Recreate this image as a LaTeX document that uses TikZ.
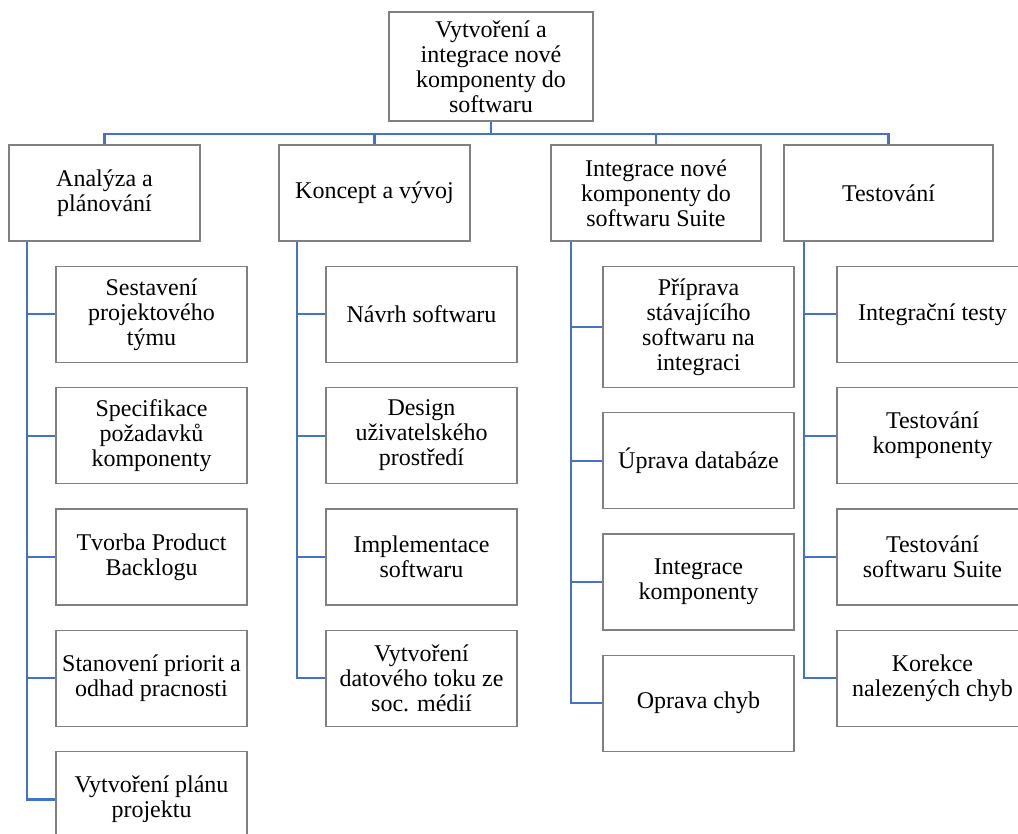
\documentclass[tikz,border=0pt]{standalone}
\usepackage{fontspec}
\setmainfont{Liberation Serif}
\newfontfamily\figpismo{Liberation Serif}
\usetikzlibrary{positioning}
\definecolor{figModra}{RGB}{68,114,196}
\definecolor{figSedaOkraj}{RGB}{128,128,128}
\tikzset{
  blok/.style={
    rectangle, draw=figSedaOkraj, line width=1.3pt, fill=white,
    minimum height=96pt, minimum width=191pt,
    align=center, font=\figpismo\fontsize{24}{25}\selectfont, inner sep=2pt
  },
  spoj/.style={line width=2.2pt, draw=figModra}
}

\begin{document}
\begin{tikzpicture}[x=1pt, y=-1pt, node distance=24pt]
  \useasboundingbox (0,0) rectangle (1018,834);
  \clip (0,0) rectangle (1018,834);

  \node[blok, minimum width=204pt, minimum height=109pt] (cil) at (491,66.5) {Vytvoření a\\integrace nové\\komponenty do\\softwaru};

  \node[blok] (analyza) at (104.5,193) {Analýza a\\plánování};
  \node[blok] (koncept) at (374.5,193) {Koncept a vývoj};
  \node[blok, minimum width=210pt] (integrace) at (656,193) {Integrace nové\\komponenty do\\softwaru Suite};
  \node[blok, minimum width=209pt] (testovani) at (888.5,193) {Testování};

  \node[blok, below right=24pt and 47pt of analyza.south west] (a1) {Sestavení\\projektového\\týmu};
  \node[blok, below=of a1] (a2) {Specifikace\\požadavků\\komponenty};
  \node[blok, below=of a2] (a3) {Tvorba Product\\Backlogu};
  \node[blok, below=of a3] (a4) {Stanovení priorit a\\odhad pracnosti};
  \node[blok, below=of a4] (a5) {Vytvoření plánu\\projektu};

  \node[blok, below right=24pt and 47pt of koncept.south west] (k1) {Návrh softwaru};
  \node[blok, below=of k1] (k2) {Design\\uživatelského\\prostředí};
  \node[blok, below=of k2] (k3) {Implementace\\softwaru};
  \node[blok, below=of k3] (k4) {Vytvoření\\datového toku ze\\soc. médií};

  \node[blok, minimum height=121pt, below right=24pt and 52pt of integrace.south west] (i1) {Příprava\\stávajícího\\softwaru na\\integraci};
  \node[blok, below=of i1] (i2) {Úprava databáze};
  \node[blok, below=of i2] (i3) {Integrace\\komponenty};
  \node[blok, below=of i3] (i4) {Oprava chyb};

  \node[blok, below right=24pt and 53pt of testovani.south west] (t1) {Integrační testy};
  \node[blok, below=of t1] (t2) {Testování\\komponenty};
  \node[blok, below=of t2] (t3) {Testování\\softwaru Suite};
  \node[blok, below=of t3] (t4) {Korekce\\nalezených chyb};

  \draw[spoj] (cil.south) -- ++(0,12) -| (analyza.north);
  \draw[spoj] (cil.south) -- ++(0,12) -| (koncept.north);
  \draw[spoj] (cil.south) -- ++(0,12) -| (integrace.north);
  \draw[spoj] (cil.south) -- ++(0,12) -| (testovani.north);

  \draw[spoj] (analyza.south west) ++(19,0) |- (a1.west);
  \draw[spoj] (analyza.south west) ++(19,0) |- (a2.west);
  \draw[spoj] (analyza.south west) ++(19,0) |- (a3.west);
  \draw[spoj] (analyza.south west) ++(19,0) |- (a4.west);
  \draw[spoj] (analyza.south west) ++(19,0) |- (a5.west);

  \draw[spoj] (koncept.south west) ++(19,0) |- (k1.west);
  \draw[spoj] (koncept.south west) ++(19,0) |- (k2.west);
  \draw[spoj] (koncept.south west) ++(19,0) |- (k3.west);
  \draw[spoj] (koncept.south west) ++(19,0) |- (k4.west);

  \draw[spoj] (integrace.south west) ++(21,0) |- (i1.west);
  \draw[spoj] (integrace.south west) ++(21,0) |- (i2.west);
  \draw[spoj] (integrace.south west) ++(21,0) |- (i3.west);
  \draw[spoj] (integrace.south west) ++(21,0) |- (i4.west);

  \draw[spoj] (testovani.south west) ++(21,0) |- (t1.west);
  \draw[spoj] (testovani.south west) ++(21,0) |- (t2.west);
  \draw[spoj] (testovani.south west) ++(21,0) |- (t3.west);
  \draw[spoj] (testovani.south west) ++(21,0) |- (t4.west);
\end{tikzpicture}
\end{document}
